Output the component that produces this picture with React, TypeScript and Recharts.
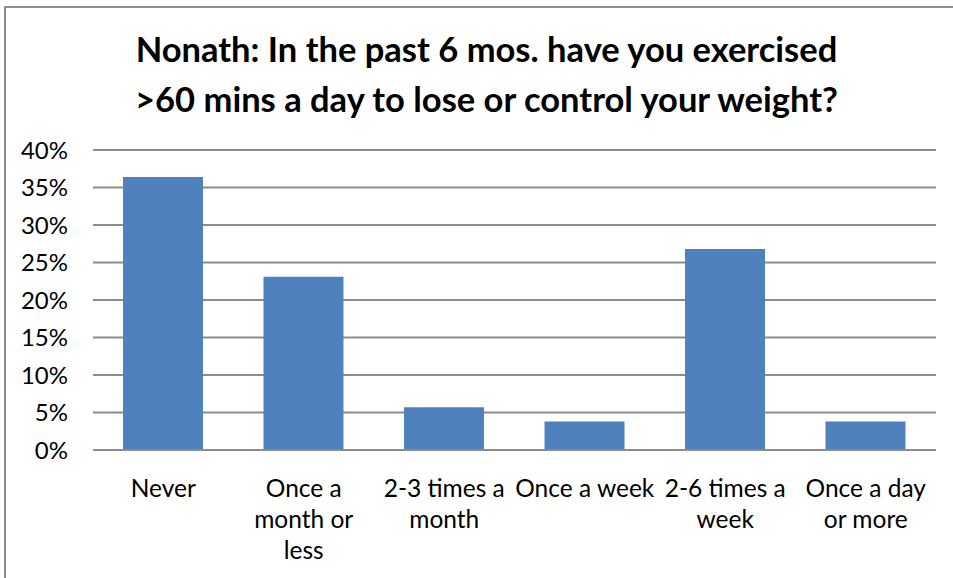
import { BarChart, Bar, XAxis, YAxis, CartesianGrid } from 'recharts';

const categories = ['Never', 'Once a month or less', '2-3 times a month', 'Once a week', '2-6 times a week', 'Once a day or more'];
const tickLines = [
  ['Never'],
  ['Once a', 'month or', 'less'],
  ['2-3 times a', 'month'],
  ['Once a week'],
  ['2-6 times a', 'week'],
  ['Once a day', 'or more']
];
const percents = [36.4, 23.1, 5.7, 3.8, 26.8, 3.8];
const yTicks = [0, 5, 10, 15, 20, 25, 30, 35, 40];

const data = categories.map((name, i) => ({ name, value: percents[i] }));

const FONT = 'Lato, "Open Sans", sans-serif';

const CategoryTick = (props: any) => {
  const { x, y, index } = props;
  const lines = tickLines[index] || [];
  return (
    <text x={x} y={y} textAnchor="middle" fill="#000" fontSize={24.5} fontFamily={FONT}>
      {lines.map((l, i) => (
        <tspan key={i} x={x} dy={i === 0 ? 45 : 31}>{l}</tspan>
      ))}
    </text>
  );
};

export default function App() {
  return (
    <div style={{ position: 'absolute', left: 0, top: 0, width: 953, height: 578, background: '#fff', fontFamily: FONT }}>
      <div style={{ position: 'absolute', left: 4, top: 6, right: 0, bottom: 0, borderLeft: '2px solid #8c8c8c', borderTop: '2px solid #8c8c8c' }} />
      <div style={{ position: 'absolute', left: 0, top: 24, width: 973, textAlign: 'center', fontWeight: 700, fontSize: 34.5, lineHeight: '50px', color: '#000' }}>
        Nonath: In the past 6 mos. have you exercised<br />
        &gt;60 mins a day to lose or control your weight?
      </div>
      <BarChart width={953} height={578} data={data} margin={{ top: 150, right: 17, bottom: 98, left: 0 }}>
        <CartesianGrid vertical={false} stroke="#8c8c8c" strokeWidth={2} />
        <XAxis dataKey="name" height={30} interval={0} tick={<CategoryTick />} tickLine={false} axisLine={{ stroke: '#8c8c8c', strokeWidth: 2 }} tickSize={0} />
        <YAxis
          width={93}
          domain={[0, 40]}
          ticks={yTicks}
          tickFormatter={(v) => `${v}%`}
          axisLine={false}
          tickLine={false}
          tickSize={0}
          tickMargin={25}
          tick={{ fill: '#000', fontSize: 24, fontFamily: FONT }}
        />
        <Bar dataKey="value" fill="#4F81BD" barSize={80} isAnimationActive={false} />
      </BarChart>
    </div>
  );
}
